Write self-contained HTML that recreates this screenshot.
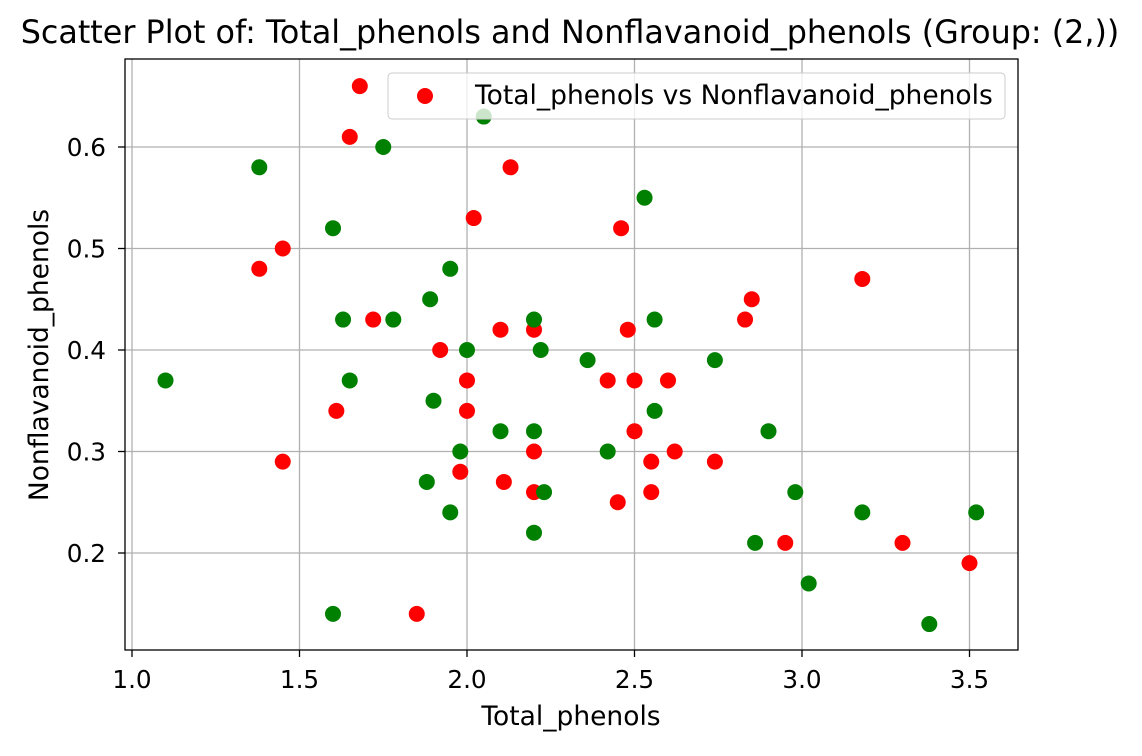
<!DOCTYPE html>
<html><head><meta charset="utf-8"><style>
body{margin:0;background:#fff;}
svg text{font-family:"DejaVu Sans","Liberation Sans",sans-serif;fill:#000;}
</style></head><body>
<svg id="chart" width="1142" height="751" xmlns="http://www.w3.org/2000/svg">
<text x="570" y="43" font-size="31.8" text-anchor="middle">Scatter Plot of: Total_phenols and Nonflavanoid_phenols (Group: (2,))</text>
<g id="grid"></g>
<g id="points"></g>
<rect x="125" y="59" width="893" height="591" fill="none" stroke="#000" stroke-width="1.3"/>
<g id="ticks"></g>
<text x="571" y="725" font-size="26.5" text-anchor="middle">Total_phenols</text>
<text x="48" y="355" font-size="26.5" text-anchor="middle" transform="rotate(-90 48 355)">Nonflavanoid_phenols</text>
<g>
<rect x="388" y="73" width="617" height="46" rx="4" fill="#fff" fill-opacity="0.8" stroke="#ccc"/>
<circle cx="425" cy="96" r="8" fill="red"/>
<text x="475" y="104" font-size="26.5">Total_phenols vs Nonflavanoid_phenols</text>
</g>
</svg>
<script>
const redX=[1.68,1.65,2.13,2.02,2.46,1.45,1.38,3.18,2.85,2.83,1.72,2.10,2.20,2.48,1.92,2.00,2.42,2.50,2.60,1.61,2.00,2.50,2.20,2.62,1.45,2.55,2.74,1.98,2.11,2.20,2.55,2.45,2.95,3.30,3.50,1.85];
const redY=[0.66,0.61,0.58,0.53,0.52,0.50,0.48,0.47,0.45,0.43,0.43,0.42,0.42,0.42,0.40,0.37,0.37,0.37,0.37,0.34,0.34,0.32,0.30,0.30,0.29,0.29,0.29,0.28,0.27,0.26,0.26,0.25,0.21,0.21,0.19,0.14];
const greenX=[2.05,1.75,1.38,2.53,1.60,1.95,1.89,1.63,1.78,2.20,2.56,2.00,2.22,2.36,2.74,1.10,1.65,2.56,1.90,2.10,2.20,2.90,1.98,2.42,1.88,2.23,2.98,1.95,3.18,3.52,2.20,2.86,3.02,1.60,3.38];
const greenY=[0.63,0.60,0.58,0.55,0.52,0.48,0.45,0.43,0.43,0.43,0.43,0.40,0.40,0.39,0.39,0.37,0.37,0.34,0.35,0.32,0.32,0.32,0.30,0.30,0.27,0.26,0.26,0.24,0.24,0.24,0.22,0.21,0.17,0.14,0.13];
const xTicks=[1.0,1.5,2.0,2.5,3.0,3.5];
const yTicks=[0.2,0.3,0.4,0.5,0.6];
const NS="http://www.w3.org/2000/svg";
function sx(v){return 132+(v-1)*335;}
function sy(v){return 553-(v-0.2)*1015;}
const grid=document.getElementById('grid'),ticks=document.getElementById('ticks'),pts=document.getElementById('points');
function mk(tag,attrs,parent){const e=document.createElementNS(NS,tag);for(const k in attrs)e.setAttribute(k,attrs[k]);parent.appendChild(e);return e;}
xTicks.forEach(v=>{
  const x=sx(v);
  const g=mk('line',{x1:x,x2:x,y1:59,y2:650,stroke:'#b0b0b0','stroke-width':1.3},grid);
  
  
  const t=mk('line',{x1:x,x2:x,y1:650,y2:657,stroke:'#000','stroke-width':1.3},ticks);
  
  
  const l=mk('text',{x:x,y:688,'font-size':24.7,'text-anchor':'middle'},ticks);
  l.textContent=v.toFixed(1);
  
  
});
yTicks.forEach(v=>{
  const y=sy(v);
  const g=mk('line',{x1:125,x2:1018,y1:y,y2:y,stroke:'#b0b0b0','stroke-width':1.3},grid);
  
  
  const t=mk('line',{x1:118,x2:125,y1:y,y2:y,stroke:'#000','stroke-width':1.3},ticks);
  
  
  const l=mk('text',{x:106,y:y+9,'font-size':24.7,'text-anchor':'end'},ticks);
  l.textContent=v.toFixed(1);
  
  
});
redX.forEach((v,i)=>{
  const c=mk('circle',{cx:sx(v),cy:sy(redY[i]),r:8,fill:'red'},pts);
  
  
});
greenX.forEach((v,i)=>{
  const c=mk('circle',{cx:sx(v),cy:sy(greenY[i]),r:8,fill:'green'},pts);
  
  
});
</script>
</body></html>
